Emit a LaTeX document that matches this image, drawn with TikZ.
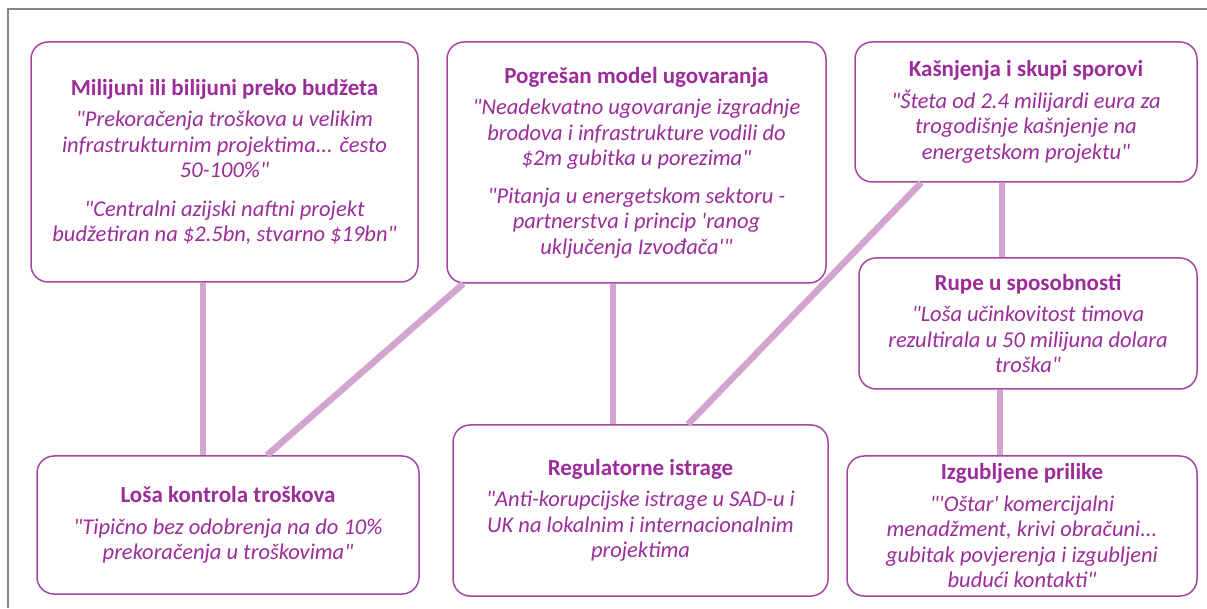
\documentclass[tikz,border=0pt]{standalone}
\usepackage{fontspec}
\setmainfont{Carlito}[Ligatures=TeXOff]
\usetikzlibrary{positioning}

\definecolor{cardline}{HTML}{A546A2}
\definecolor{cardtext}{HTML}{9C2C99}
\definecolor{linkcol}{HTML}{D4A4D1}
\definecolor{framecol}{HTML}{858585}

\newcommand{\cardtitle}[1]{{\upshape\bfseries\fontsize{23}{25.5}\selectfont #1}\\[6pt]}

\begin{document}
\begin{tikzpicture}[
  x=1pt, y=1pt,
  card/.style={draw=cardline, line width=1.5pt, fill=white,
    rounded corners=17pt, align=center, inner sep=0pt, text=cardtext,
    font=\itshape\fontsize{22.5}{25.5}\selectfont},
  link/.style={draw=linkcol, line width=6.5pt},
  frame/.style={draw=framecol, line width=2pt}
]
  \useasboundingbox (0,0) rectangle (1207,608);
  \draw[frame] (1207,599) -- (8,599) -- (8,0);

  % upper row
  \node[card, minimum width=387pt, minimum height=240pt] (budget) at (224.5,446)
    {\cardtitle{Milijuni ili bilijuni preko budžeta}
     "Prekoračenja troškova u velikim\\
     infrastrukturnim projektima... često\\
     50-100\%"\\[13pt]
     "Centralni azijski naftni projekt\\
     budžetiran na \$2.5bn, stvarno \$19bn"};
  \node[card, minimum width=379pt, minimum height=241pt] (model) at (636.5,445.5)
    {\cardtitle{Pogrešan model ugovaranja}
     "Neadekvatno ugovaranje izgradnje\\
     brodova i infrastrukture vodili do\\
     \$2m gubitka u porezima"\\[12pt]
     "Pitanja u energetskom sektoru -\\
     partnerstva i princip 'ranog\\
     uključenja Izvođača'"};
  \node[card, minimum width=342pt, minimum height=140pt] (delay) at (1026,496)
    {\cardtitle{Kašnjenja i skupi sporovi}
     "Šteta od 2.4 milijardi eura za\\
     trogodišnje kašnjenje na\\
     energetskom projektu"};
  \node[card, minimum width=338pt, minimum height=131pt] (skills) at (1028,284.5)
    {\cardtitle{Rupe u sposobnosti}
     "Loša učinkovitost timova\\
     rezultirala u 50 milijuna dolara\\
     troška"};

  % lower row
  \node[card, minimum width=382pt, minimum height=138pt] (control) at (228,83)
    {\cardtitle{Loša kontrola troškova}
     "Tipično bez odobrenja na do 10\%\\
     prekoračenja u troškovima"};
  \node[card, minimum width=375pt, minimum height=171pt] (probe) at (640.5,97.5)
    {\cardtitle{Regulatorne istrage}
     "Anti-korupcijske istrage u SAD-u i\\
     UK na lokalnim i internacionalnim\\
     projektima};
  \node[card, minimum width=350pt, minimum height=140pt] (lost) at (1022,82)
    {\cardtitle{Izgubljene prilike}
     "'Oštar' komercijalni\\
     menadžment, krivi obračuni...\\
     gubitak povjerenja i izgubljeni\\
     budući kontakti"};

  \path[link]
    ([xshift=-21.5pt]budget.south) edge ([xshift=-25pt]control.north)
    ([xshift=17pt]model.south west) edge ([xshift=39pt]control.north)
    ([xshift=-23.5pt]model.south) edge ([xshift=-27.5pt]probe.north)
    ([xshift=67pt]delay.south west) edge ([xshift=47.5pt]probe.north)
    ([xshift=-24pt]delay.south) edge ([xshift=-26pt]skills.north)
    ([xshift=-28pt]skills.south) edge ([xshift=-22pt]lost.north);
\end{tikzpicture}
\end{document}
